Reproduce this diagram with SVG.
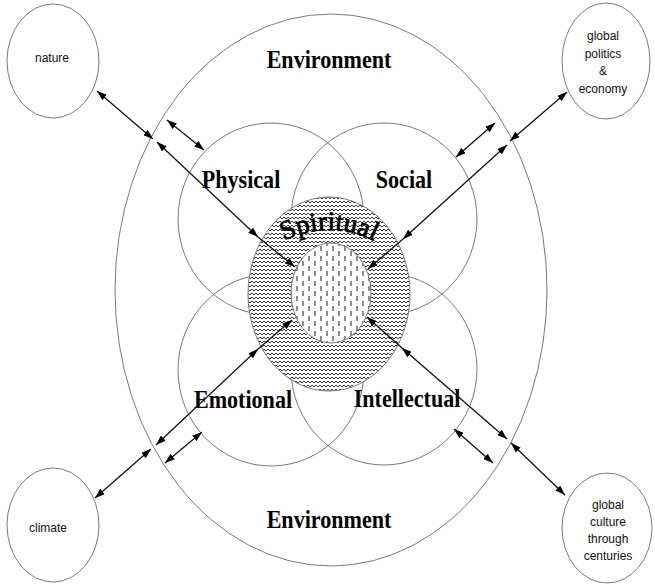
<svg xmlns="http://www.w3.org/2000/svg" width="655" height="585" viewBox="0 0 655 585">
<style>
.ring{fill:none;stroke:#7a7a7a;stroke-width:1}
.node{fill:#fff;stroke:#7a7a7a;stroke-width:1}
.lbl{font-family:"Liberation Serif","Times New Roman",serif;font-weight:bold;font-size:26px;fill:#000;text-anchor:middle}
.small{font-family:"Liberation Sans",Arial,sans-serif;font-size:12px;fill:#111;text-anchor:middle}
.con line{stroke:#111;stroke-width:1.3}
</style>
<defs>
<marker id="ah" viewBox="0 0 10 7" refX="10" refY="3.5" markerWidth="10" markerHeight="7" markerUnits="userSpaceOnUse" orient="auto-start-reverse">
<path d="M0,0 L10,3.5 L0,7 z" fill="#000"/>
</marker>
<pattern id="zz" width="4" height="4" patternUnits="userSpaceOnUse">
<rect width="4" height="4" fill="#fff"/>
<path d="M0,1 L2,3 L4,1" fill="none" stroke="#000" stroke-width="0.8"/>
</pattern>
<pattern id="dash" width="12" height="10" patternUnits="userSpaceOnUse">
<rect width="12" height="10" fill="#fff"/>
<path d="M3,1 V6 M9,6 V11 M9,-4 V1" stroke="#000" stroke-width="0.9"/>
</pattern>
<path id="arc" d="M272,248 A100,100 0 0 1 386,248"/>
</defs>

<g id="environment">
<ellipse class="ring" cx="331" cy="290" rx="216" ry="276"/>
<text class="lbl" transform="translate(329,68) scale(0.85,1)">Environment</text>
<text class="lbl" transform="translate(329,528) scale(0.85,1)">Environment</text>
</g>

<g id="physical">
<ellipse class="ring" cx="271" cy="219" rx="93" ry="96"/>
</g>
<g id="social">
<ellipse class="ring" cx="384" cy="219" rx="93" ry="96"/>
</g>
<g id="emotional">
<ellipse class="ring" cx="271" cy="370" rx="93" ry="96"/>
</g>
<g id="intellectual">
<ellipse class="ring" cx="384" cy="369" rx="93" ry="96"/>
</g>

<g id="spiritual">
<ellipse cx="329" cy="294" rx="81" ry="97" fill="url(#zz)" stroke="#7a7a7a" stroke-width="1"/>
<ellipse cx="331" cy="293" rx="40" ry="50" fill="url(#dash)" stroke="#7a7a7a" stroke-width="1"/>
<text font-family="'Liberation Serif','Times New Roman',serif" font-size="27" fill="#000" stroke="#000" stroke-width="0.8" text-anchor="middle"><textPath href="#arc" startOffset="50%">Spiritual</textPath></text>
</g>

<g id="labels">
<text class="lbl" transform="translate(241,188) scale(0.85,1)">Physical</text>
<text class="lbl" transform="translate(404,188) scale(0.85,1)">Social</text>
<text class="lbl" transform="translate(243,408) scale(0.85,1)">Emotional</text>
<text class="lbl" transform="translate(407,407) scale(0.85,1)">Intellectual</text>
</g>

<g id="nature">
<ellipse class="node" cx="53" cy="61" rx="46" ry="57"/>
<text class="small" x="52" y="62">nature</text>
</g>
<g id="politics">
<ellipse class="node" cx="606" cy="61" rx="44" ry="58"/>
<text class="small" x="603" y="40">global</text>
<text class="small" x="603" y="58">politics</text>
<text class="small" x="603" y="75">&amp;</text>
<text class="small" x="603" y="93">economy</text>
</g>
<g id="climate">
<ellipse class="node" cx="53" cy="525" rx="46" ry="57"/>
<text class="small" x="48" y="532">climate</text>
</g>
<g id="culture">
<ellipse class="node" cx="607" cy="528" rx="45" ry="55"/>
<text class="small" x="608" y="509">global</text>
<text class="small" x="608" y="526">culture</text>
<text class="small" x="608" y="543">through</text>
<text class="small" x="608" y="560">centuries</text>
</g>

<g id="connectors" class="con">
<line x1="97" y1="91" x2="153" y2="139" marker-start="url(#ah)" marker-end="url(#ah)"/>
<line x1="157" y1="142" x2="258" y2="237" marker-start="url(#ah)" marker-end="url(#ah)"/>
<line x1="258" y1="237" x2="295" y2="267" marker-end="url(#ah)"/>
<line x1="167" y1="120" x2="204" y2="150" marker-start="url(#ah)" marker-end="url(#ah)"/>

<line x1="567" y1="92" x2="510" y2="141" marker-start="url(#ah)" marker-end="url(#ah)"/>
<line x1="507" y1="145" x2="403" y2="239" marker-start="url(#ah)" marker-end="url(#ah)"/>
<line x1="403" y1="239" x2="368" y2="269" marker-end="url(#ah)"/>
<line x1="495" y1="123" x2="456" y2="157" marker-start="url(#ah)" marker-end="url(#ah)"/>

<line x1="95" y1="498" x2="151" y2="449" marker-start="url(#ah)" marker-end="url(#ah)"/>
<line x1="156" y1="445" x2="258" y2="349" marker-start="url(#ah)" marker-end="url(#ah)"/>
<line x1="258" y1="349" x2="292" y2="320" marker-end="url(#ah)"/>
<line x1="165" y1="463" x2="202" y2="432" marker-start="url(#ah)" marker-end="url(#ah)"/>

<line x1="565" y1="495" x2="511" y2="443" marker-start="url(#ah)" marker-end="url(#ah)"/>
<line x1="507" y1="439" x2="402" y2="348" marker-start="url(#ah)" marker-end="url(#ah)"/>
<line x1="402" y1="348" x2="367" y2="317" marker-end="url(#ah)"/>
<line x1="454" y1="429" x2="493" y2="463" marker-start="url(#ah)" marker-end="url(#ah)"/>
</g>
</svg>
